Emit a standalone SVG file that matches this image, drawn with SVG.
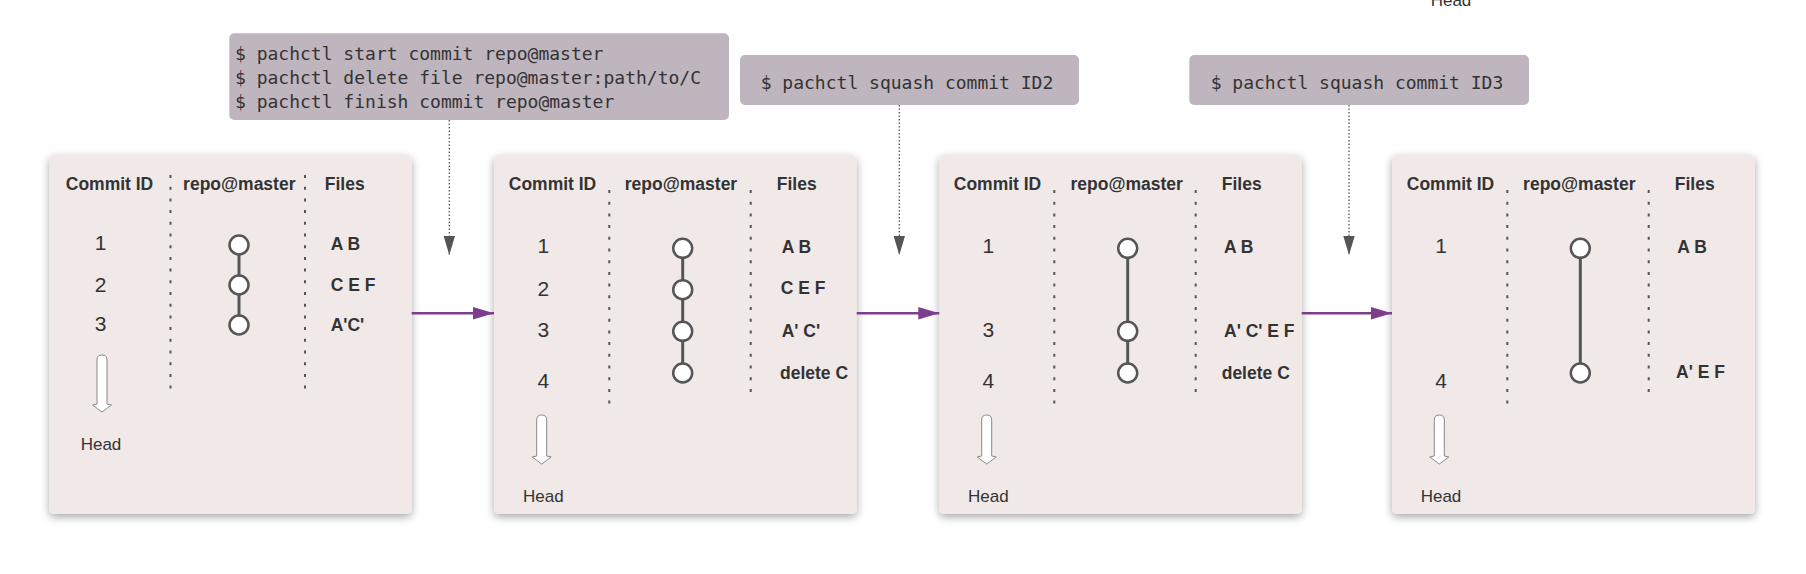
<svg xmlns="http://www.w3.org/2000/svg" width="1806" height="574" viewBox="0 0 1806 574">
<defs>
<filter id="shadow" x="-10%" y="-10%" width="120%" height="120%">
<feDropShadow dx="0" dy="3" stdDeviation="4" flood-color="#000" flood-opacity="0.35"/>
</filter>
<marker id="grayHead" markerUnits="userSpaceOnUse" markerWidth="20" markerHeight="12" viewBox="0 0 20 12" refX="19" refY="5.7" orient="auto">
<path d="M0,0 L19,5.7 L0,11.4 Z" fill="#555"/>
</marker>
<marker id="purpleHead" markerUnits="userSpaceOnUse" markerWidth="22" markerHeight="14" viewBox="0 0 22 14" refX="21" refY="6.3" orient="auto">
<path d="M0,0 L21,6.3 L0,12.6 Z" fill="#7E3E8E"/>
</marker>
</defs>
<style>
.panel{fill:#F0E9E8;filter:url(#shadow)}
.cmd{fill:#BFB5BE}
.mono{font-family:"DejaVu Sans Mono","Liberation Mono",monospace;font-size:18px;fill:#333}
.hdr{font-family:"Liberation Sans",Arial,sans-serif;font-size:17.5px;font-weight:bold;fill:#333;text-anchor:middle}
.file{font-family:"Liberation Sans",Arial,sans-serif;font-size:17.5px;font-weight:bold;fill:#333}
.num{font-family:"Liberation Sans",Arial,sans-serif;font-size:21px;fill:#333;text-anchor:middle}
.head{font-family:"Liberation Sans",Arial,sans-serif;font-size:17px;fill:#333;text-anchor:middle}
.sep{stroke:#555;stroke-width:2;stroke-dasharray:3 8.7;fill:none}
.branch{stroke:#555;stroke-width:3;fill:none}
.commit{fill:#fff;stroke:#555;stroke-width:2.5}
.harrow{fill:#fff;stroke:#888;stroke-width:1}
.dot{stroke:#555;stroke-width:1.3;stroke-dasharray:1.5 2;fill:none}
.flow{stroke:#7E3E8E;stroke-width:2.5;fill:none}
</style>

<text class="head" x="1451" y="6">Head</text>

<g id="cmd1">
<rect class="cmd" x="229.3" y="33.3" width="499.7" height="86.7" rx="5"/>
<text class="mono" x="235" y="60">$ pachctl start commit repo@master</text>
<text class="mono" x="235" y="84.2">$ pachctl delete file repo@master:path/to/C</text>
<text class="mono" x="235" y="108.3">$ pachctl finish commit repo@master</text>
</g>
<g id="cmd2">
<rect class="cmd" x="740" y="55" width="339" height="50" rx="5"/>
<text class="mono" x="760.7" y="89">$ pachctl squash commit ID2</text>
</g>
<g id="cmd3">
<rect class="cmd" x="1189.3" y="55" width="339.7" height="50" rx="5"/>
<text class="mono" x="1210.7" y="89">$ pachctl squash commit ID3</text>
</g>

<g id="panel1">
<rect class="panel" x="49.3" y="155" width="362.4" height="359" rx="5"/>
<text class="hdr" x="109.5" y="190">Commit ID</text>
<text class="hdr" x="239.3" y="190">repo@master</text>
<text class="hdr" x="344.7" y="190">Files</text>
<line class="sep" x1="170.5" y1="175" x2="170.5" y2="395"/>
<line class="sep" x1="305" y1="175" x2="305" y2="395"/>
<text class="num" x="100.7" y="250">1</text>
<text class="num" x="100.7" y="291.5">2</text>
<text class="num" x="100.7" y="331">3</text>
<line class="branch" x1="239" y1="245" x2="239" y2="325"/>
<circle class="commit" cx="239" cy="245" r="9.5"/>
<circle class="commit" cx="239" cy="285" r="9.5"/>
<circle class="commit" cx="239" cy="325" r="9.5"/>
<text class="file" x="330.7" y="250">A B</text>
<text class="file" x="330.7" y="291">C E F</text>
<text class="file" x="330.7" y="331">A'C'</text>
<path class="harrow" d="M97,360 Q97,355 102,355 Q107,355 107,360 L107,404 L111.5,405 Q106,409 102,412 Q98,409 92.5,405 L97,404 Z"/>
<text class="head" x="101" y="450">Head</text>
</g>

<g id="panel2">
<rect class="panel" x="494" y="155" width="362.7" height="359" rx="5"/>
<text class="hdr" x="552.5" y="190">Commit ID</text>
<text class="hdr" x="681" y="190">repo@master</text>
<text class="hdr" x="796.7" y="190">Files</text>
<line class="sep" x1="609.3" y1="190" x2="609.3" y2="406.7"/>
<line class="sep" x1="750.7" y1="190" x2="750.7" y2="397.7"/>
<text class="num" x="543.3" y="253.3">1</text>
<text class="num" x="543.3" y="295.7">2</text>
<text class="num" x="543.3" y="337.3">3</text>
<text class="num" x="543.3" y="388.3">4</text>
<line class="branch" x1="682.7" y1="248.3" x2="682.7" y2="373"/>
<circle class="commit" cx="682.7" cy="248.3" r="9.5"/>
<circle class="commit" cx="682.7" cy="289.7" r="9.5"/>
<circle class="commit" cx="682.7" cy="331.3" r="9.5"/>
<circle class="commit" cx="682.7" cy="373" r="9.5"/>
<text class="file" x="781.7" y="253.3">A B</text>
<text class="file" x="780.7" y="294.3">C E F</text>
<text class="file" x="781.7" y="336.7">A' C'</text>
<text class="file" x="780" y="379">delete C</text>
<path class="harrow" d="M536.7,420 Q536.7,415 541.7,415 Q546.7,415 546.7,420 L546.7,456 L551.2,457 Q545.7,461 541.7,464 Q537.7,461 532.2,457 L536.7,456 Z"/>
<text class="head" x="543.3" y="502.3">Head</text>
</g>

<g id="panel3">
<rect class="panel" x="939.3" y="155" width="362.4" height="359" rx="5"/>
<text class="hdr" x="997.5" y="190">Commit ID</text>
<text class="hdr" x="1126.7" y="190">repo@master</text>
<text class="hdr" x="1241.7" y="190">Files</text>
<line class="sep" x1="1054.3" y1="190" x2="1054.3" y2="406.7"/>
<line class="sep" x1="1195.7" y1="190" x2="1195.7" y2="397.7"/>
<text class="num" x="988.3" y="253.3">1</text>
<text class="num" x="988.3" y="337.3">3</text>
<text class="num" x="988.3" y="388.3">4</text>
<line class="branch" x1="1127.7" y1="248.3" x2="1127.7" y2="373"/>
<circle class="commit" cx="1127.7" cy="248.3" r="9.5"/>
<circle class="commit" cx="1127.7" cy="331.3" r="9.5"/>
<circle class="commit" cx="1127.7" cy="373" r="9.5"/>
<text class="file" x="1224" y="253.3">A B</text>
<text class="file" x="1224" y="336.7">A' C' E F</text>
<text class="file" x="1221.7" y="379">delete C</text>
<path class="harrow" d="M981.7,420 Q981.7,415 986.7,415 Q991.7,415 991.7,420 L991.7,456 L996.2,457 Q990.7,461 986.7,464 Q982.7,461 977.2,457 L981.7,456 Z"/>
<text class="head" x="988.3" y="502.3">Head</text>
</g>

<g id="panel4">
<rect class="panel" x="1392" y="155" width="363" height="359" rx="5"/>
<text class="hdr" x="1450.5" y="190">Commit ID</text>
<text class="hdr" x="1579.3" y="190">repo@master</text>
<text class="hdr" x="1694.7" y="190">Files</text>
<line class="sep" x1="1507.3" y1="190" x2="1507.3" y2="406.7"/>
<line class="sep" x1="1648.7" y1="190" x2="1648.7" y2="397.7"/>
<text class="num" x="1441" y="253.3">1</text>
<text class="num" x="1441" y="388.3">4</text>
<line class="branch" x1="1580.3" y1="248.3" x2="1580.3" y2="373"/>
<circle class="commit" cx="1580.3" cy="248.3" r="9.5"/>
<circle class="commit" cx="1580.3" cy="373" r="9.5"/>
<text class="file" x="1677.3" y="253.3">A B</text>
<text class="file" x="1676" y="377.7">A' E F</text>
<path class="harrow" d="M1434.3,420 Q1434.3,415 1439.3,415 Q1444.3,415 1444.3,420 L1444.3,456 L1448.8,457 Q1443.3,461 1439.3,464 Q1435.3,461 1429.8,457 L1434.3,456 Z"/>
<text class="head" x="1441" y="502.3">Head</text>
</g>

<g id="connectors">
<line class="dot" x1="449.3" y1="120" x2="449.3" y2="255" marker-end="url(#grayHead)"/>
<line class="dot" x1="899.3" y1="105" x2="899.3" y2="255" marker-end="url(#grayHead)"/>
<line class="dot" x1="1349" y1="105" x2="1349" y2="255" marker-end="url(#grayHead)"/>
<line class="flow" x1="411.7" y1="313.3" x2="494" y2="313.3" marker-end="url(#purpleHead)"/>
<line class="flow" x1="856.7" y1="313.3" x2="939.3" y2="313.3" marker-end="url(#purpleHead)"/>
<line class="flow" x1="1301.7" y1="313.3" x2="1392" y2="313.3" marker-end="url(#purpleHead)"/>
</g>
</svg>
